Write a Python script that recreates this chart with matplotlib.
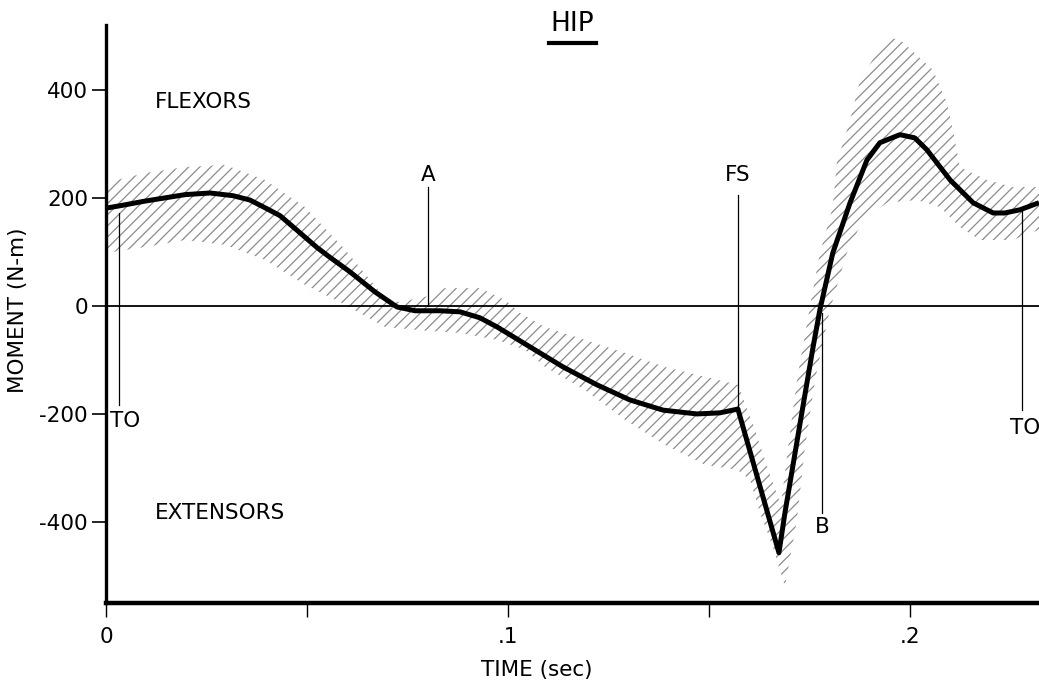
import matplotlib
matplotlib.use("Agg")
import matplotlib.pyplot as plt
from matplotlib.lines import Line2D
import numpy as np

plt.rcParams['font.family'] = ['DejaVu Sans']
plt.rcParams['hatch.linewidth'] = 0.9

# ---- mean hip moment (N-m) vs time (s) ----
mean_t = [0.0, 0.0032, 0.0097, 0.0197, 0.0259, 0.0316, 0.0358, 0.04, 0.0433, 0.0483,
          0.0525, 0.0557, 0.0607, 0.0669, 0.0724, 0.0769, 0.0831, 0.0881, 0.093, 0.0973,
          0.1055, 0.1137, 0.1221, 0.1303, 0.1386, 0.147, 0.1527, 0.1572, 0.1674, 0.1689,
          0.1731, 0.1759, 0.1776, 0.1808, 0.1851, 0.1893, 0.1925, 0.1975, 0.2012, 0.2042,
          0.21, 0.2157, 0.2207, 0.2236, 0.2274, 0.2321]
mean_m = [181, 185, 194, 206, 209, 204, 196, 180, 167, 135,
          108, 90, 63, 26, -2, -9, -9, -11, -22, -39,
          -76, -113, -146, -174, -193, -200, -198, -191, -457, -383,
          -198, -76, -7, 98, 191, 270, 302, 317, 311, 289,
          233, 191, 172, 172, 178, 191]

# ---- upper edge of variability band ----
upper_t = [0.0, 0.0097, 0.0197, 0.0296, 0.0396, 0.0495, 0.0595, 0.0694, 0.0731, 0.0801,
           0.0843, 0.093, 0.0993, 0.103, 0.1092, 0.1192, 0.1291, 0.139, 0.149, 0.1572,
           0.161, 0.1652, 0.1679, 0.1697, 0.1719, 0.1751, 0.1776, 0.1808, 0.1818, 0.1851,
           0.1876, 0.1918, 0.195, 0.1975, 0.2057, 0.2092, 0.2107, 0.2124, 0.2192, 0.2256,
           0.2321]
upper_m = [228, 246, 257, 261, 233, 183, 104, 15, 7, 18,
           33, 33, 11, -13, -39, -63, -87, -113, -131, -146,
           -220, -313, -369, -261, -137, -2, 98, 183, 265, 344,
           418, 469, 496, 493, 437, 376, 326, 257, 233, 220,
           220]

# ---- lower edge of variability band ----
lower_t = [0.0, 0.0097, 0.0197, 0.0296, 0.0396, 0.0495, 0.0595, 0.0694, 0.0799, 0.0881,
           0.0973, 0.1042, 0.1092, 0.1192, 0.1291, 0.139, 0.149, 0.1572, 0.1602, 0.1627,
           0.1659, 0.1689, 0.1701, 0.1719, 0.1739, 0.1764, 0.1801, 0.1843, 0.1883, 0.1943,
           0.2017, 0.2075, 0.2124, 0.2174, 0.2256, 0.2321]
lower_m = [98, 109, 122, 113, 85, 39, 2, -39, -46, -50,
           -63, -81, -113, -156, -211, -257, -294, -304, -322, -383,
           -446, -520, -470, -396, -261, -137, -7, 98, 159, 191,
           196, 183, 146, 122, 122, 141]

# ---- event markers ----
event_labels = ['TO', 'A', 'FS', 'B', 'TO']
event_t = [0.0032, 0.0801, 0.1572, 0.1781, 0.2279]
event_lo = [-183, 0, -191, -383, -193]
event_hi = [172, 220, 206, -13, 178]

xticks = [0, 0.05, 0.1, 0.15, 0.2]
xticklabels = ['0', '', '.1', '', '.2']
yticks = [-400, -200, 0, 200, 400]
yticklabels = ['-400', '-200', '0', '200', '400']

FS_ = 15.5

W, H = 1039, 682
fig = plt.figure(figsize=(W / 100, H / 100), dpi=100)
ax = fig.add_axes([106 / W, (H - 603) / H, (W - 106) / W, (603 - 25) / H])
ax.set_xlim(0, 0.2321)
ax.set_ylim(-550, 520)

# band polygon
poly_t = list(upper_t) + list(lower_t[::-1])
poly_m = list(upper_m) + list(lower_m[::-1])
ax.fill(poly_t, poly_m, facecolor='none', edgecolor='#8c8c8c', hatch='///', linewidth=0)

ax.axhline(0, color='black', lw=1.3, zorder=2)
ax.plot(mean_t, mean_m, color='black', lw=3.6, solid_joinstyle='round',
        solid_capstyle='butt', zorder=4)

for t, lo, hi in zip(event_t, event_lo, event_hi):
    ax.plot([t, t], [lo, hi], color='black', lw=0.9, zorder=3)

ax.text(event_t[0] - 0.0022, -213, event_labels[0], ha='left', va='center', fontsize=FS_)
ax.text(event_t[1], 243, event_labels[1], ha='center', va='center', fontsize=FS_)
ax.text(event_t[2], 243, event_labels[2], ha='center', va='center', fontsize=FS_)
ax.text(event_t[3], -409, event_labels[3], ha='center', va='center', fontsize=FS_)
ax.text(event_t[4] - 0.003, -226, event_labels[4], ha='left', va='center', fontsize=FS_)

ax.text(0.0122, 378, 'FLEXORS', ha='left', va='center', fontsize=FS_)
ax.text(0.0122, -383, 'EXTENSORS', ha='left', va='center', fontsize=FS_)

for s in ['top', 'right']:
    ax.spines[s].set_visible(False)
ax.spines['left'].set_linewidth(2.4)
ax.spines['bottom'].set_linewidth(3.2)

ax.set_xticks(xticks)
ax.set_xticklabels(xticklabels, fontsize=FS_)
ax.set_yticks(yticks)
ax.set_yticklabels(yticklabels, fontsize=FS_)
ax.tick_params(axis='x', direction='out', length=10, width=1.0, pad=7)
ax.tick_params(axis='y', direction='out', length=10, width=1.2, pad=3)

fig.text(537 / W, 1 - 670 / H, 'TIME (sec)', ha='center', va='center', fontsize=FS_)
fig.text(18 / W, 1 - 310 / H, 'MOMENT (N-m)', ha='center', va='center', rotation=90, fontsize=FS_)

fig.text(572 / W, 1 - 24 / H, 'HIP', ha='center', va='center', fontsize=19)
fig.add_artist(Line2D([549 / W, 596 / W], [1 - 43 / H, 1 - 43 / H], color='black', lw=3))

fig.savefig('out.png', dpi=100)
